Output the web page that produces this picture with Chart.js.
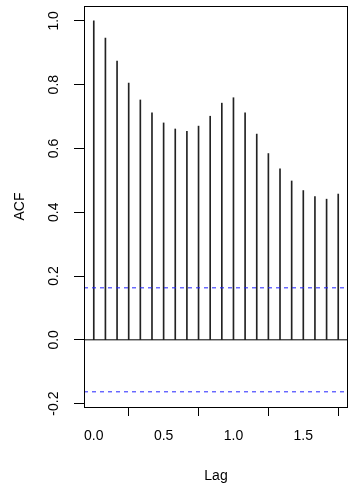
<!DOCTYPE html>
<html>
<head>
<meta charset="utf-8">
<script src="https://cdn.jsdelivr.net/npm/chart.js@4"></script>
<style>
  html, body { margin: 0; padding: 0; background: #ffffff; }
  #wrap { width: 349px; height: 485px; }
</style>
</head>
<body>
<div id="wrap"><canvas id="acfPlot" width="349" height="485"></canvas></div>
<script>
// ACF values (lag in years, monthly series)
const lags = [0, 0.0833, 0.1667, 0.25, 0.3333, 0.4167, 0.5, 0.5833, 0.6667, 0.75, 0.8333,
              0.9167, 1.0, 1.0833, 1.1667, 1.25, 1.3333, 1.4167, 1.5, 1.5833, 1.6667, 1.75];
const acfValues = [1.0, 0.946, 0.874, 0.805, 0.752, 0.712, 0.680, 0.661, 0.654, 0.670, 0.701,
                   0.742, 0.759, 0.712, 0.645, 0.584, 0.536, 0.498, 0.468, 0.449, 0.441, 0.457];
const ciLimit = 0.163;
const xRange = [-0.07, 1.82];
const yRange = [-0.2106, 1.0466];
const xTicks = [0, 0.5, 1.0, 1.5];
const yTicks = [-0.2, 0, 0.2, 0.4, 0.6, 0.8, 1.0];

const FONT = '"Liberation Sans", Arial, sans-serif';

// frame around the plot + rotated y tick labels, R style
const rAxesPlugin = {
    id: 'rAxes',
    afterDraw(chart) {
        const ctx = chart.ctx;
        const area = chart.chartArea;
        const y = chart.scales.y;
        ctx.save();
        ctx.strokeStyle = '#000';
        ctx.lineWidth = 1;
        ctx.strokeRect(Math.round(area.left) + 0.5, Math.round(area.top) + 0.5,
                       Math.round(area.right - area.left) - 1, Math.round(area.bottom - area.top));
        ctx.fillStyle = '#000';
        ctx.font = '14px ' + FONT;
        ctx.textAlign = 'center';
        ctx.textBaseline = 'middle';
        yTicks.forEach(v => {
            const py = y.getPixelForValue(v);
            ctx.save();
            ctx.translate(54, py);
            ctx.rotate(-Math.PI / 2);
            ctx.fillText(v.toFixed(1), 0, 0);
            ctx.restore();
        });
        ctx.restore();
    }
};

new Chart(document.getElementById('acfPlot'), {
    type: 'bar',
    data: {
        datasets: [
            {
                type: 'bar',
                data: lags.map((l, i) => ({ x: l, y: acfValues[i] })),
                backgroundColor: '#222222',
                borderWidth: 0,
                barThickness: 1,
                order: 2
            },
            {
                type: 'line',
                data: [{ x: xRange[0], y: 0 }, { x: xRange[1], y: 0 }],
                borderColor: '#000000',
                borderWidth: 1,
                pointRadius: 0,
                order: 1
            },
            {
                type: 'line',
                data: [{ x: xRange[0], y: ciLimit }, { x: xRange[1], y: ciLimit }],
                borderColor: '#2222FF',
                borderWidth: 1,
                borderDash: [4, 4],
                pointRadius: 0,
                order: 0
            },
            {
                type: 'line',
                data: [{ x: xRange[0], y: -ciLimit }, { x: xRange[1], y: -ciLimit }],
                borderColor: '#2222FF',
                borderWidth: 1,
                borderDash: [4, 4],
                pointRadius: 0,
                order: 0
            }
        ]
    },
    options: {
        responsive: false,
        animation: false,
        layout: { padding: { top: 6, right: 1, left: 0, bottom: 0 } },
        plugins: {
            legend: { display: false },
            tooltip: { enabled: false }
        },
        scales: {
            x: {
                type: 'linear',
                min: xRange[0],
                max: xRange[1],
                offset: false,
                afterBuildTicks: s => { s.ticks = xTicks.map(v => ({ value: v })); },
                afterFit: s => { s.height = 78; },
                grid: { drawOnChartArea: false, tickLength: 9, color: '#000' },
                border: { display: false },
                ticks: {
                    color: '#000',
                    font: { size: 14, family: FONT },
                    padding: 12,
                    maxRotation: 0,
                    callback: v => Number(v).toFixed(1)
                },
                title: {
                    display: true,
                    text: 'Lag',
                    color: '#000',
                    font: { size: 14, family: FONT },
                    padding: { top: 0, bottom: 0 }
                }
            },
            y: {
                min: yRange[0],
                max: yRange[1],
                afterBuildTicks: s => { s.ticks = yTicks.map(v => ({ value: v })); },
                afterFit: s => { s.width = 84; },
                grid: { drawOnChartArea: false, tickLength: 10, color: '#000' },
                border: { display: false },
                ticks: { display: false },
                title: {
                    display: true,
                    text: 'ACF',
                    color: '#000',
                    font: { size: 14, family: FONT },
                    padding: { top: 12, bottom: 0 }
                }
            }
        }
    },
    plugins: [rAxesPlugin]
});
</script>
</body>
</html>
